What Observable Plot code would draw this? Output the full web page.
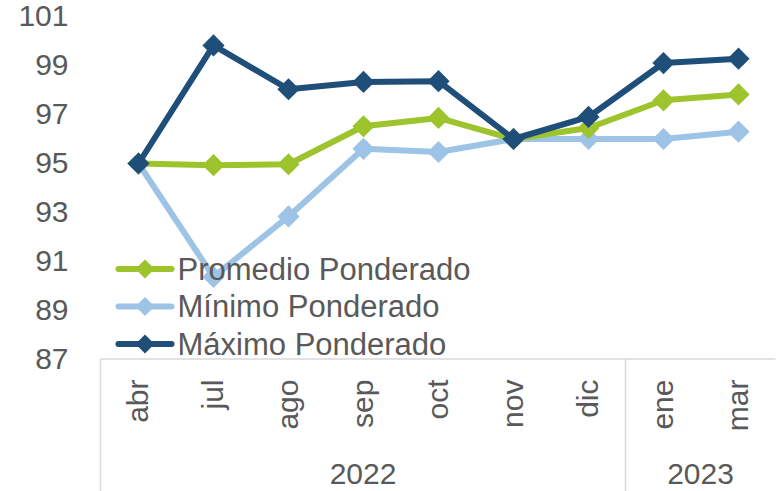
<!DOCTYPE html>
<html>
<head>
<meta charset="utf-8">
<script src="https://cdn.jsdelivr.net/npm/d3@7"></script>
<script src="https://cdn.jsdelivr.net/npm/@observablehq/plot@0.6"></script>
<style>
  html, body { margin: 0; padding: 0; background: #fff; }
  #chart { width: 780px; height: 491px; }
  svg { font-family: "Liberation Sans", Arial, sans-serif; }
</style>
</head>
<body>
<div id="chart"></div>
<script>
const months = ["abr", "jul", "ago", "sep", "oct", "nov", "dic", "ene", "mar"];
const years = ["2022", "2022", "2022", "2022", "2022", "2022", "2022", "2023", "2023"];
const yearLabels = ["2022", "2023"];
const promedio = [95.0, 94.93, 94.97, 96.52, 96.86, 96.0, 96.45, 97.58, 97.82];
const minimo = [95.0, 90.37, 92.84, 95.6, 95.47, 96.0, 96.0, 96.0, 96.3];
const maximo = [95.0, 99.82, 98.03, 98.33, 98.36, 96.0, 96.9, 99.1, 99.28];
const yTicks = [87, 89, 91, 93, 95, 97, 99, 101];
const seriesNames = ["Promedio Ponderado", "Mínimo Ponderado", "Máximo Ponderado"];
const seriesColors = ["#9DC42C", "#9DC3E6", "#1F4E79"];

const seriesValues = [promedio, minimo, maximo];
const data = [];
seriesNames.forEach((name, s) => {
  months.forEach((m, i) => data.push({serie: name, mes: m, valor: seriesValues[s][i]}));
});
// draw order: Mínimo, Promedio, Máximo
const drawOrder = [1, 0, 2];

const textColor = "#595959";
const W = 780, H = 491;

const marks = [];
drawOrder.forEach(s => {
  const d = data.filter(r => r.serie === seriesNames[s]);
  marks.push(Plot.line(d, {x: "mes", y: "valor", stroke: seriesColors[s], strokeWidth: 6, strokeLinejoin: "round"}));
  marks.push(Plot.dot(d, {x: "mes", y: "valor", fill: seriesColors[s], symbol: "diamond2", r: 10, stroke: null}));
});
marks.push(Plot.text(months, {
  x: d => d, y: () => 87, text: d => d, rotate: -90, textAnchor: "end", lineAnchor: "middle",
  dy: 20, fontSize: 30, fill: textColor
}));

const plot = Plot.plot({
  width: W,
  height: H,
  marginLeft: 99,
  marginRight: 3,
  marginTop: 16,
  marginBottom: 132,
  style: {fontFamily: '"Liberation Sans", Arial, sans-serif', background: "#fff", overflow: "visible"},
  x: {type: "point", domain: months, padding: 0.5, axis: null},
  y: {domain: [87, 101], ticks: yTicks, tickSize: 0, tickPadding: 31, tickFormat: d => String(d), label: null},
  marks: [
    Plot.axisY({ticks: yTicks, tickSize: 0, tickPadding: 31, fontSize: 30, fill: textColor, tickFormat: d => String(d), label: null}),
    ...marks
  ]
});

document.getElementById("chart").appendChild(plot);

// category axis frame and year labels, placed via the plot's scales
const xs = plot.scale("x");
const ys = plot.scale("y");
const step = xs.apply(months[1]) - xs.apply(months[0]);
const svg = d3.select(plot);
const yBase = ys.apply(87);
const left = xs.apply(months[0]) - step / 2;
const right = xs.apply(months[months.length - 1]) + step / 2;
const g = svg.append("g");
g.append("line").attr("x1", left).attr("x2", right).attr("y1", yBase).attr("y2", yBase)
  .attr("stroke", "#D9D9D9").attr("stroke-width", 1.5);
g.append("line").attr("x1", left).attr("x2", left).attr("y1", yBase).attr("y2", H)
  .attr("stroke", "#D9D9D9").attr("stroke-width", 1.5);
yearLabels.forEach((yr, k) => {
  const ms = months.filter((m, i) => years[i] === yr);
  const x0 = xs.apply(ms[0]) - step / 2;
  const x1 = xs.apply(ms[ms.length - 1]) + step / 2;
  if (k > 0) {
    g.append("line").attr("x1", x0).attr("x2", x0).attr("y1", yBase).attr("y2", H)
      .attr("stroke", "#D9D9D9").attr("stroke-width", 1.5);
  }
  g.append("text").attr("x", (x0 + x1) / 2).attr("y", yBase + 114)
    .attr("text-anchor", "middle").attr("dominant-baseline", "central")
    .attr("font-size", 30).attr("fill", textColor).text(yr);
});

// legend inside plot area
const legendY0 = ys.apply(87) - 90;
const legend = svg.append("g").attr("text-anchor", "start");
seriesNames.forEach((name, s) => {
  const cy = legendY0 + s * 37.5;
  const lx = left + 18;
  legend.append("line").attr("x1", lx).attr("x2", lx + 53).attr("y1", cy).attr("y2", cy)
    .attr("stroke", seriesColors[s]).attr("stroke-width", 6).attr("stroke-linecap", "round");
  const r = 9.5;
  const cx = lx + 26.5;
  legend.append("path").attr("d", `M${cx},${cy - r}L${cx + r},${cy}L${cx},${cy + r}L${cx - r},${cy}Z`)
    .attr("fill", seriesColors[s]);
  legend.append("text").attr("x", lx + 59).attr("y", cy).attr("dominant-baseline", "central")
    .attr("text-anchor", "start")
    .attr("font-size", 31).attr("fill", textColor).text(name);
});
</script>
</body>
</html>
